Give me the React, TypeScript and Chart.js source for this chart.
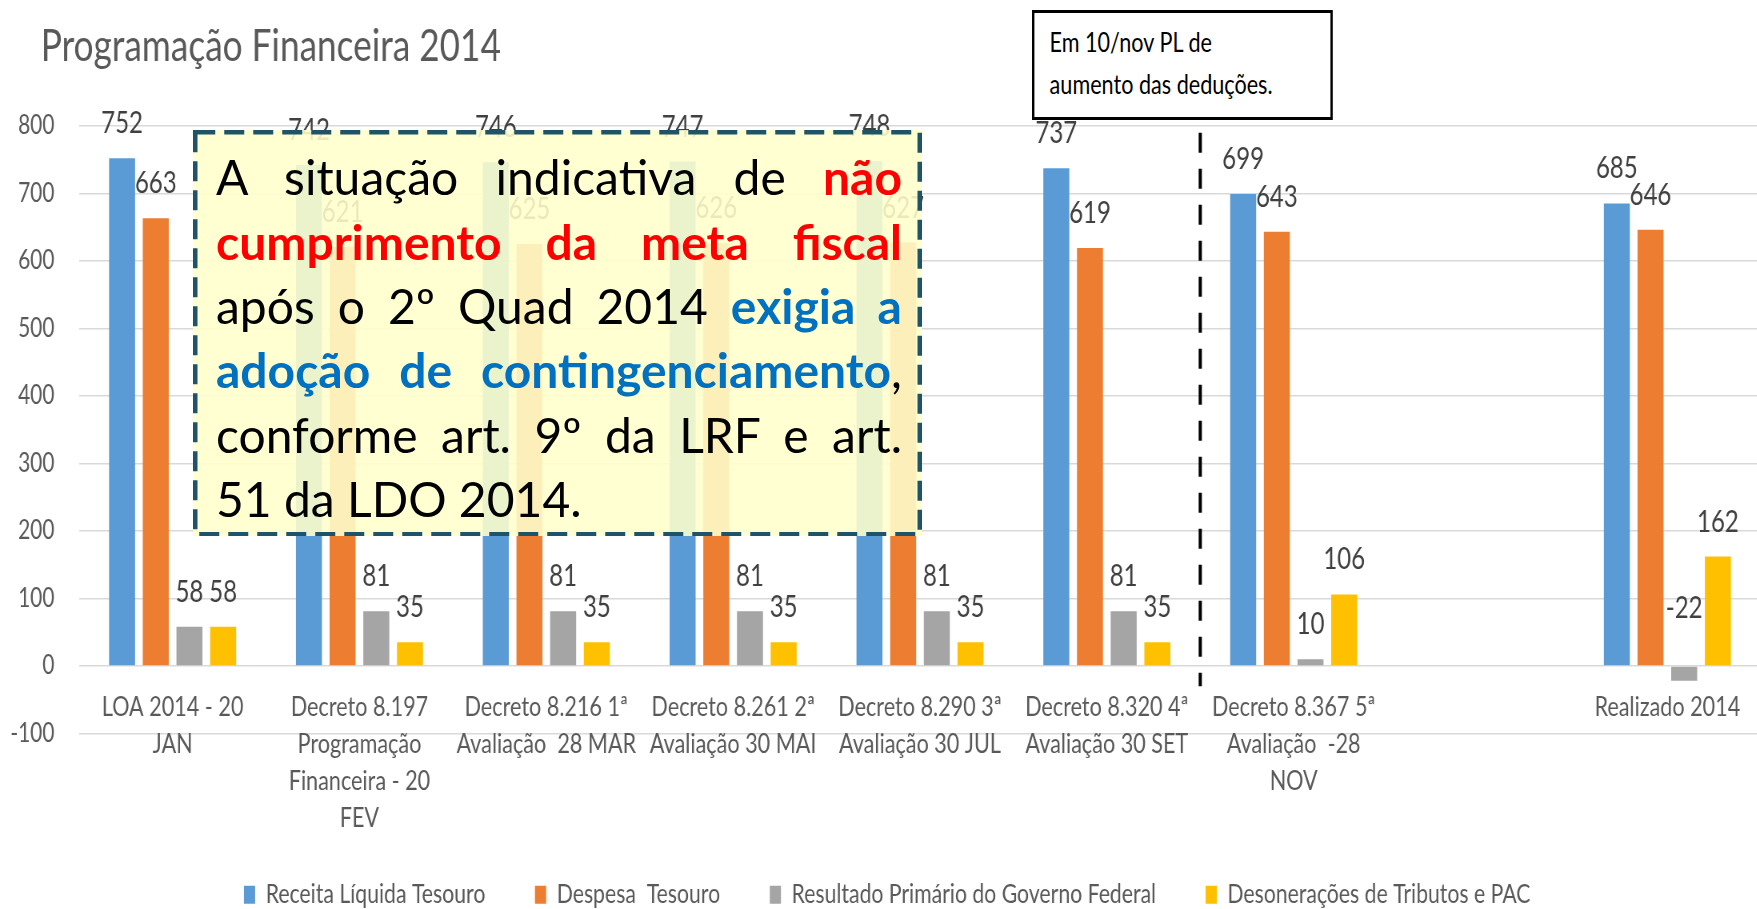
import React, { useEffect, useRef } from 'react';
import { Chart, registerables } from 'chart.js';

Chart.register(...registerables);

// ---------- data ----------
const categories: string[][] = [
  ['LOA 2014 - 20', 'JAN'],
  ['Decreto 8.197', 'Programação', 'Financeira - 20', 'FEV'],
  ['Decreto 8.216 1ª', 'Avaliação  28 MAR'],
  ['Decreto 8.261 2ª', 'Avaliação 30 MAI'],
  ['Decreto 8.290 3ª', 'Avaliação 30 JUL'],
  ['Decreto 8.320 4ª', 'Avaliação 30 SET'],
  ['Decreto 8.367 5ª', 'Avaliação  -28', 'NOV'],
  [''],
  ['Realizado 2014'],
];
const receitaLiquida = [752, 742, 746, 747, 748, 737, 699, null, 685];
const despesaTesouro = [663, 621, 625, 626, 627, 619, 643, null, 646];
const resultadoPrimario = [58, 81, 81, 81, 81, 81, 10, null, -22];
const desoneracoes = [58, 35, 35, 35, 35, 35, 106, null, 162];
const seriesNames = [
  'Receita Líquida Tesouro',
  'Despesa  Tesouro',
  'Resultado Primário do Governo Federal',
  'Desonerações de Tributos e PAC',
];
const seriesColors = ['#5B9BD5', '#ED7D31', '#A5A5A5', '#FFC000'];
const yMin = -100;
const yMax = 800;
const yStep = 100;
const titleText = 'Programação Financeira 2014';

// ---------- geometry of the (horizontally squished) chart picture ----------
const SQUISH = 0.8;
const LW = 2201; // logical canvas width
const LH = 918; // logical canvas height

const valueLabels = {
  id: 'valueLabels',
  afterDatasetsDraw(chart: any) {
    const { ctx } = chart;
    const ys = chart.scales.y;
    ctx.save();
    ctx.font = '30px Lato';
    ctx.fillStyle = '#404040';
    ctx.textAlign = 'center';
    ctx.textBaseline = 'alphabetic';
    chart.data.datasets.forEach((ds: any, di: number) => {
      const meta = chart.getDatasetMeta(di);
      meta.data.forEach((bar: any, i: number) => {
        const v = ds.data[i];
        if (v === null || v === undefined) return;
        const yb = v >= 0 ? bar.y - 25 : ys.getPixelForValue(0) - 48;
        ctx.fillText(String(v), bar.x, yb);
      });
    });
    ctx.restore();
  },
};

const divider = {
  id: 'divider',
  afterDatasetsDraw(chart: any) {
    const { ctx, chartArea } = chart;
    const xs = chart.scales.x;
    const ys = chart.scales.y;
    const px = (xs.getPixelForValue(5) + xs.getPixelForValue(6)) / 2;
    ctx.save();
    ctx.strokeStyle = '#000000';
    ctx.lineWidth = 4;
    ctx.setLineDash([20, 16]);
    ctx.beginPath();
    ctx.moveTo(px, chartArea.top + 7);
    ctx.lineTo(px, ys.getPixelForValue(-30));
    ctx.stroke();
    ctx.restore();
  },
};

// let the y tick labels use the space left of the axis box (not clipped),
// and nudge the centred legend slightly to the left
const layoutTweaks = {
  id: 'layoutTweaks',
  afterLayout(chart: any) {
    chart.scales.y.left = 0;
    if (chart.legend) {
      chart.legend.left -= 17;
      chart.legend.right -= 17;
    }
  },
};

export default function App() {
  const ref = useRef<HTMLCanvasElement>(null);

  useEffect(() => {
    document.body.style.margin = '0';
    document.body.style.overflow = 'hidden';
    document.documentElement.style.overflow = 'hidden';
    Chart.defaults.font.family = 'Lato';
    const series = [receitaLiquida, despesaTesouro, resultadoPrimario, desoneracoes];
    const chart = new Chart(ref.current as HTMLCanvasElement, {
      type: 'bar',
      data: {
        labels: categories,
        datasets: series.map((d, i) => ({
          label: seriesNames[i],
          data: d,
          backgroundColor: seriesColors[i],
          borderWidth: 0,
          barPercentage: 0.772,
          categoryPercentage: 0.721,
        })),
      },
      options: {
        responsive: false,
        animation: false,
        devicePixelRatio: 1,
        layout: { padding: { left: 51, right: 0, top: 0, bottom: 0 } },
        plugins: {
          tooltip: { enabled: false },
          title: {
            display: true,
            text: titleText,
            align: 'start',
            color: '#595959',
            font: { family: 'Lato', size: 44, weight: 'normal' },
            padding: { top: 20, bottom: 53 },
          },
          legend: {
            display: true,
            position: 'bottom',
            align: 'center',
            title: { display: true, text: '', font: { size: 10, lineHeight: 1 }, padding: { top: 76, bottom: 0 } },
            labels: {
              boxWidth: 14,
              boxHeight: 18,
              padding: 62,
              color: '#595959',
              font: { family: 'Lato', size: 26.5 },
            },
          },
        },
        scales: {
          x: {
            type: 'category',
            position: { y: 0 } as any,
            grid: { display: false, drawTicks: false },
            border: { display: false },
            ticks: {
              autoSkip: false,
              maxRotation: 0,
              minRotation: 0,
              padding: 23,
              color: '#595959',
              font: { family: 'Lato', size: 27, lineHeight: 1.37 },
            },
          },
          y: {
            min: yMin,
            max: yMax,
            afterFit: (scale: any) => {
              scale.width = 48;
            },
            ticks: {
              stepSize: yStep,
              padding: 31,
              color: '#595959',
              font: { family: 'Lato', size: 26 },
            },
            grid: { color: '#D9D9D9', lineWidth: 1.5, drawTicks: false },
            border: { display: false },
          },
        },
      },
      plugins: [valueLabels, divider, layoutTweaks],
    });
    return () => chart.destroy();
  }, []);

  const J: React.CSSProperties = {
    textAlign: 'justify',
    textAlignLast: 'justify',
    height: 64.4,
    whiteSpace: 'normal',
  };
  const red: React.CSSProperties = { color: '#FF0000', fontWeight: 'bold' };
  const blue: React.CSSProperties = { color: '#0070C0', fontWeight: 'bold' };

  return (
    <>
      <div
        style={{
          position: 'fixed',
          left: 0,
          top: 0,
          width: LW,
          height: LH,
          transform: `scaleX(${SQUISH})`,
          transformOrigin: '0 0',
        }}
      >
        <canvas
          ref={ref}
          width={LW}
          height={LH}
          style={{ width: LW + 'px', height: LH + 'px', display: 'block' }}
        />
        <div
          style={{
            position: 'absolute',
            left: 1290,
            top: 10,
            width: 376,
            height: 110,
            boxSizing: 'border-box',
            border: '3px solid #000',
            background: '#FFFFFF',
            padding: '8px 0 0 19px',
            fontFamily: 'Lato',
            fontSize: 27,
            lineHeight: '42px',
            color: '#000',
          }}
        >
          Em 10/nov PL de
          <br />
          aumento das deduções.
        </div>
      </div>

      <div
        style={{
          position: 'fixed',
          left: 193,
          top: 129.5,
          width: 729,
          height: 406.5,
          background: 'rgba(255,255,204,0.88)',
        }}
      >
        <svg width={729} height={406.5} style={{ position: 'absolute', left: 0, top: 0 }}>
          <rect
            x={2.25}
            y={2.25}
            width={724.5}
            height={402}
            fill="none"
            stroke="#1F5367"
            strokeWidth={4.5}
            strokeDasharray="20 9"
          />
        </svg>
        <div
          style={{
            position: 'absolute',
            left: 23,
            top: 15.7,
            width: 686,
            fontFamily: 'Lato',
            fontSize: 48,
            lineHeight: '64.4px',
            color: '#000',
          }}
        >
          <div style={J}>
            A situação indicativa de <span style={red}>não</span>
          </div>
          <div style={J}>
            <span style={red}>cumprimento da meta fiscal</span>
          </div>
          <div style={J}>
            após o 2º Quad 2014 <span style={blue}>exigia a</span>
          </div>
          <div style={J}>
            <span style={blue}>adoção de contingenciamento</span>,
          </div>
          <div style={J}>conforme art. 9º da LRF e art.</div>
          <div style={{ height: 64.4, textAlign: 'left' }}>51 da LDO 2014.</div>
        </div>
      </div>
    </>
  );
}
